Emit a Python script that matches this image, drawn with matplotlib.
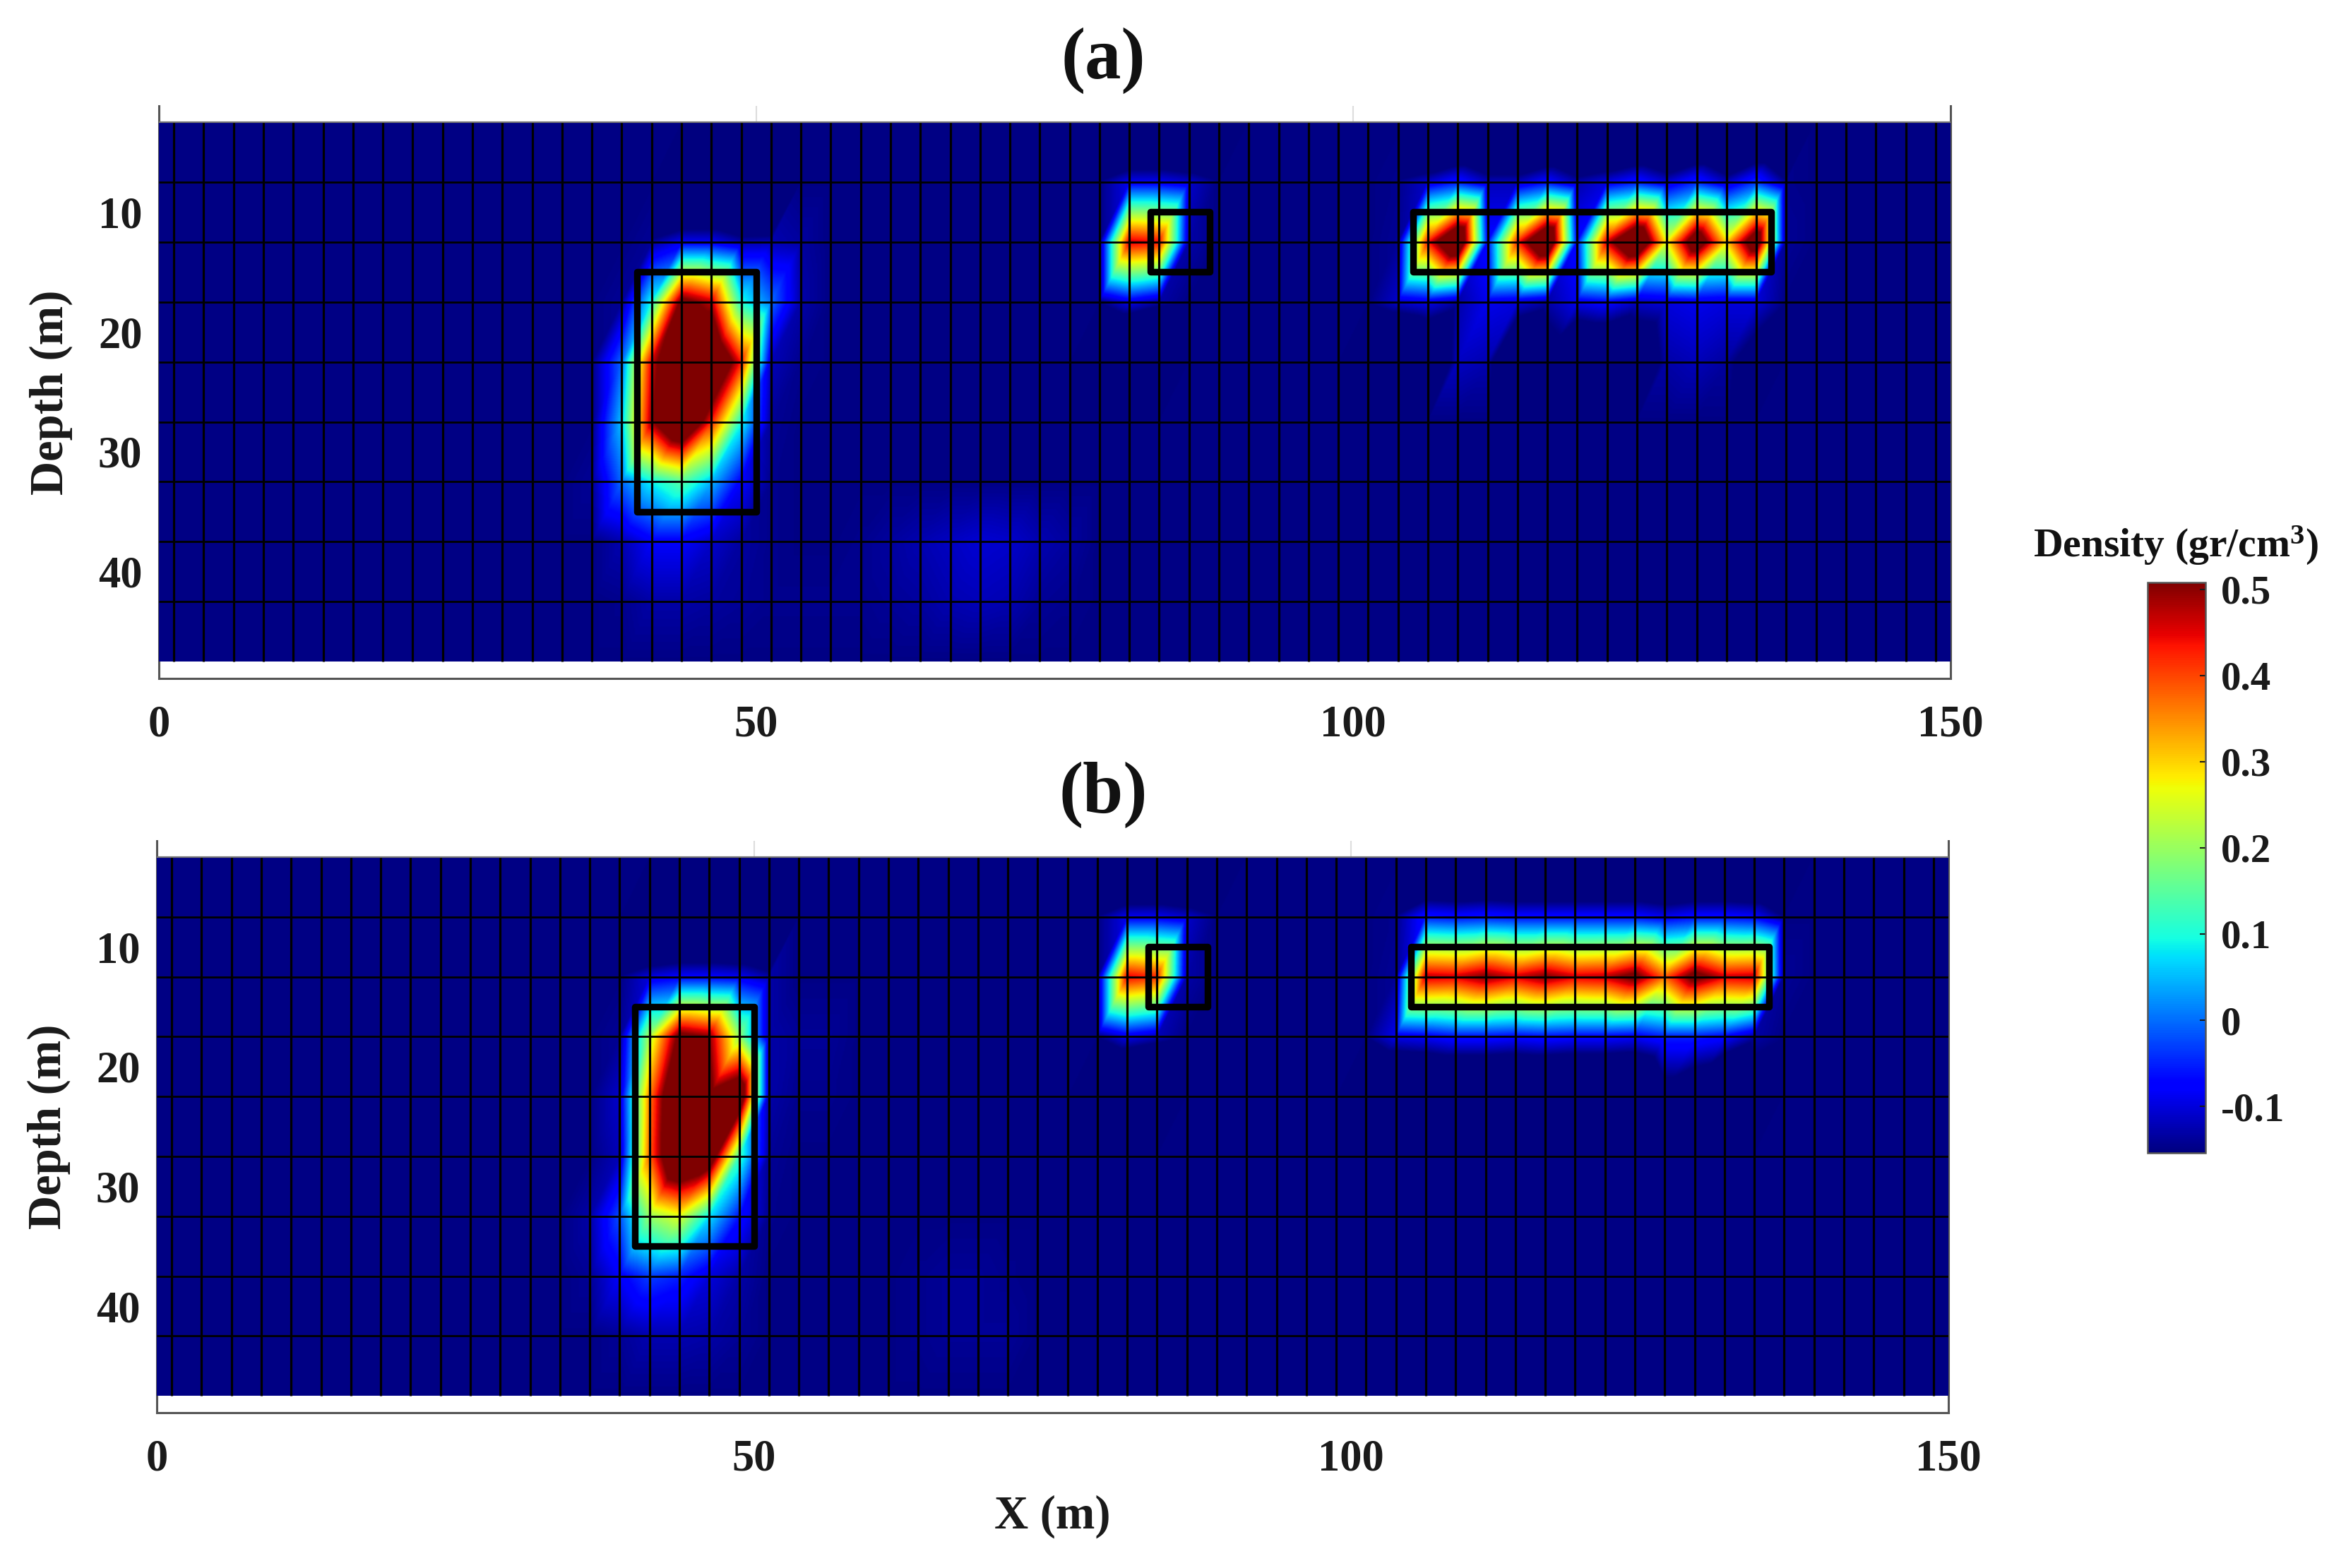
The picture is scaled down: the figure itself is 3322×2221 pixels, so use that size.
import numpy as np
import matplotlib
matplotlib.use("Agg")
import matplotlib.pyplot as plt
import matplotlib.tri as mtri
from matplotlib.patches import Rectangle

plt.rcParams['font.family'] = ['Liberation Serif', 'DejaVu Serif']
plt.rcParams['font.weight'] = 'bold'
plt.rcParams['mathtext.fontset'] = 'custom'
plt.rcParams['mathtext.bf'] = 'Liberation Serif:bold'
plt.rcParams['mathtext.rm'] = 'Liberation Serif:bold'

W, H = 3322, 2221

# mesh nodes, the grid lines sit on them
x_nodes = np.arange(-1.25, 152, 2.5)
depth_nodes = np.arange(2.5, 48, 5.0)
background = -0.15
vmin, vmax = -0.154, 0.508

# density read off at the nodes, only where it differs from background
# values under vmin all show as the same dark blue, they only make the edges steep
left_x = [36.25, 38.75, 41.25, 43.75, 46.25, 48.75, 51.25, 53.75, 56.25]
left_depth = [7.5, 12.5, 17.5, 22.5, 27.5, 32.5, 37.5, 42.5]
a_left = [
    [-0.15, -0.15, -0.15, -0.4, -0.4, -0.4, -0.4, -0.15, -0.15],
    [-0.15, -0.15, -0.14, -0.09, -0.09, -0.13, -0.125, -0.135, -0.15],
    [-0.15, -0.14, 0.10, 0.54, 0.47, 0.10, 0.0, -0.13, -0.15],
    [-0.15, 0.0, 0.46, 0.7, 0.7, 0.43, -0.12, -0.145, -0.15],
    [-0.15, 0.06, 0.5, 0.7, 0.43, 0.1, -0.14, -0.15, -0.15],
    [-0.14, 0.0, 0.09, 0.15, 0.05, -0.08, -0.145, -0.15, -0.15],
    [-0.15, -0.125, -0.08, -0.08, -0.11, -0.135, -0.145, -0.15, -0.15],
    [-0.15, -0.145, -0.13, -0.13, -0.135, -0.14, -0.145, -0.145, -0.145],
]
b_left = [
    [-0.15, -0.15, -0.4, -0.4, -0.4, -0.4, -0.4, -0.15, -0.15],
    [-0.15, -0.15, -0.1, -0.08, -0.08, -0.09, -0.13, -0.15, -0.15],
    [-0.15, -0.14, 0.22, 0.54, 0.5, 0.2, -0.13, -0.14, -0.14],
    [-0.15, -0.11, 0.36, 0.7, 0.55, 0.65, -0.13, -0.145, -0.145],
    [-0.15, -0.12, 0.38, 0.7, 0.62, 0.13, -0.14, -0.15, -0.15],
    [-0.13, -0.02, 0.2, 0.26, 0.08, -0.06, -0.145, -0.15, -0.15],
    [-0.14, -0.08, -0.03, -0.05, -0.1, -0.13, -0.15, -0.15, -0.15],
    [-0.15, -0.14, -0.125, -0.125, -0.13, -0.14, -0.15, -0.15, -0.15],
]

mid_x = [78.75, 81.25, 83.75, 86.25, 88.75]
mid_depth = [2.5, 7.5, 12.5, 17.5, 22.5]
a_mid = [
    [-0.15, -0.4, -0.4, -0.4, -0.4],
    [-0.15, -0.09, -0.09, -0.11, -0.15],
    [-0.15, 0.46, 0.44, -0.13, -0.15],
    [-0.15, -0.09, -0.13, -0.15, -0.15],
    [-0.4, -0.4, -0.4, -0.15, -0.15],
]
b_mid = [
    [-0.15, -0.4, -0.4, -0.4, -0.4],
    [-0.15, -0.09, -0.09, -0.11, -0.15],
    [-0.15, 0.45, 0.42, -0.13, -0.15],
    [-0.15, -0.09, -0.12, -0.15, -0.15],
    [-0.4, -0.4, -0.4, -0.15, -0.15],
]

right_x = [101.25, 103.75, 106.25, 108.75, 111.25, 113.75, 116.25, 118.75,
           121.25, 123.75, 126.25, 128.75, 131.25, 133.75, 136.25, 138.75]
right_depth = [2.5, 7.5, 12.5, 17.5, 22.5]
a_right = [
    [-0.15, -0.15, -0.4, -0.4, -0.4, -0.4, -0.4, -0.4, -0.4, -0.4, -0.4, -0.4, -0.4, -0.4, -0.4, -0.15],
    [-0.15, -0.145, -0.11, -0.06, -0.12, -0.12, -0.07, -0.13, -0.1, -0.06, -0.11, -0.05, -0.12, -0.04, -0.145, -0.15],
    [-0.15, -0.14, 0.43, 0.7, -0.07, 0.42, 0.7, -0.07, 0.46, 0.7, 0.27, 0.62, 0.3, 0.62, -0.14, -0.15],
    [-0.15, -0.11, -0.09, -0.13, -0.09, -0.1, -0.13, -0.09, -0.07, -0.11, -0.1, -0.09, -0.1, -0.1, -0.15, -0.15],
    [-0.35, -0.35, -0.3, -0.115, -0.125, -0.3, -0.2, -0.3, -0.3, -0.25, -0.13, -0.12, -0.135, -0.2, -0.15, -0.15],
]
b_right = [
    [-0.15, -0.15, -0.4, -0.4, -0.4, -0.4, -0.4, -0.4, -0.4, -0.4, -0.4, -0.4, -0.4, -0.4, -0.4, -0.15],
    [-0.15, -0.145, -0.06, -0.07, -0.06, -0.07, -0.07, -0.07, -0.07, -0.07, -0.09, -0.07, -0.07, -0.08, -0.15, -0.15],
    [-0.15, -0.14, 0.47, 0.46, 0.51, 0.46, 0.51, 0.46, 0.47, 0.54, 0.38, 0.55, 0.46, 0.47, -0.14, -0.15],
    [-0.15, -0.09, -0.08, -0.06, -0.06, -0.07, -0.06, -0.07, -0.07, -0.08, -0.05, -0.05, -0.07, -0.13, -0.15, -0.15],
    [-0.35, -0.35, -0.35, -0.35, -0.35, -0.35, -0.35, -0.35, -0.35, -0.35, -0.2, -0.25, -0.35, -0.2, -0.15, -0.15],
]

floor_x = [58.75, 61.25, 63.75, 66.25, 68.75, 71.25, 73.75, 76.25, 78.75]
floor_depth = [37.5, 42.5]
a_floor = [
    [-0.145, -0.135, -0.125, -0.115, -0.105, -0.11, -0.125, -0.135, -0.15],
    [-0.145, -0.14, -0.135, -0.125, -0.12, -0.125, -0.14, -0.145, -0.15],
]
b_floor = [
    [-0.15, -0.15, -0.145, -0.14, -0.14, -0.145, -0.15, -0.15, -0.15],
    [-0.15, -0.15, -0.145, -0.14, -0.14, -0.14, -0.15, -0.15, -0.15],
]

# anomaly outlines: x, depth, width, height
boxes = [(40, 15, 10, 20), (83, 10, 5, 5), (105, 10, 30, 5)]
x_ticks = [0, 50, 100, 150]
y_ticks = [10, 20, 30, 40]
cbar_ticks = [-0.1, 0, 0.1, 0.2, 0.3, 0.4, 0.5]
cbar_labels = ['-0.1', '0', '0.1', '0.2', '0.3', '0.4', '0.5']


def build_grid(parts):
    grid = np.full((len(depth_nodes), len(x_nodes)), background)
    for xs, depths, values in parts:
        ci = np.searchsorted(x_nodes, xs)
        ri = np.searchsorted(depth_nodes, depths)
        grid[np.ix_(ri, ci)] = values
    return grid


def shade(grid):
    # flat triangles with "/" diagonals, value linear inside each one
    nx, ny = len(x_nodes), len(depth_nodes)
    xx, yy = np.meshgrid(x_nodes, depth_nodes)
    tris = []
    for j in range(ny - 1):
        for i in range(nx - 1):
            p = j * nx + i
            tris.append([p, p + 1, p + nx])
            tris.append([p + 1, p + nx + 1, p + nx])
    tri = mtri.Triangulation(xx.ravel(), yy.ravel(), np.array(tris))
    interp = mtri.LinearTriInterpolator(tri, grid.ravel())
    xf = np.linspace(0, 150, 1600)
    yf = np.linspace(2.5, 47.5, 800)
    fx, fy = np.meshgrid(xf, yf)
    return np.ma.filled(interp(fx, fy), background)


def make_axes(left, right, top, bottom):
    return fig.add_axes([left / W, 1 - bottom / H, (right - left) / W, (bottom - top) / H])


def draw_panel(ax, grid, label, title_y):
    im = ax.imshow(shade(grid), cmap='jet', vmin=vmin, vmax=vmax, aspect='auto',
                   extent=(0, 150, 47.5, 2.5), interpolation='bilinear', zorder=3)
    ax.set_xlim(0, 150)
    ax.set_ylim(48.9, 1.15)
    ax.vlines(x_nodes[1:-1], 2.5, 47.5, color='black', lw=2.3, zorder=4)
    ax.hlines(depth_nodes[1:-1], 0, 150, color='black', lw=2.0, zorder=4)
    ax.hlines(2.5, 0, 150, color='#777777', lw=1.6, zorder=4)
    ax.vlines([50, 100], 1.15, 2.5, color='#dddddd', lw=1.5, zorder=2)
    for bx, by, bw, bh in boxes:
        ax.add_patch(Rectangle((bx, by), bw, bh, fill=False, ec='black', lw=6.8,
                               joinstyle='round', zorder=6))
    ax.spines['top'].set_visible(False)
    for s in ['left', 'right', 'bottom']:
        ax.spines[s].set_color('#555555')
        ax.spines[s].set_linewidth(2.2)
    ax.set_xticks(x_ticks)
    ax.set_yticks(y_ticks)
    ax.tick_params(axis='x', length=0, pad=27, labelsize=45, colors='#1a1a1a')
    ax.tick_params(axis='y', length=0, pad=17, labelsize=45, colors='#1a1a1a')
    ax.set_ylabel('Depth (m)', fontsize=48, fontweight='bold', color='#1a1a1a', labelpad=26)
    fig.text(1562 / W, 1 - title_y / H, label, fontsize=74, fontweight='bold',
             ha='center', va='center', color='#111111')
    return im


fig = plt.figure(figsize=(W / 100, H / 100), dpi=100, facecolor='white')

grid_a = build_grid([(left_x, left_depth, a_left), (mid_x, mid_depth, a_mid),
                     (right_x, right_depth, a_right), (floor_x, floor_depth, a_floor)])
grid_b = build_grid([(left_x, left_depth, b_left), (mid_x, mid_depth, b_mid),
                     (right_x, right_depth, b_right), (floor_x, floor_depth, b_floor)])

ax_a = make_axes(225, 2762, 150, 961)
ax_b = make_axes(222, 2759, 1191, 2001)
im = draw_panel(ax_a, grid_a, '(a)', 86)
draw_panel(ax_b, grid_b, '(b)', 1126)
ax_b.set_xlabel('X (m)', fontsize=48, fontweight='bold', color='#1a1a1a', labelpad=15)

cax = make_axes(3041, 3123, 825, 1633)
cbar = fig.colorbar(im, cax=cax)
cbar.set_ticks(cbar_ticks)
cbar.set_ticklabels(cbar_labels)
cbar.ax.tick_params(direction='in', length=6, width=1.5, pad=16, labelsize=41, colors='#1a1a1a')
cbar.outline.set_edgecolor('#555555')
cbar.outline.set_linewidth(1.8)
fig.text(3081 / W, 1 - 789 / H, r'Density (gr/cm$\mathbf{^3}$)', fontsize=41.5, fontweight='bold',
         ha='center', va='baseline', color='#111111')

fig.savefig('out.png', dpi=100)
